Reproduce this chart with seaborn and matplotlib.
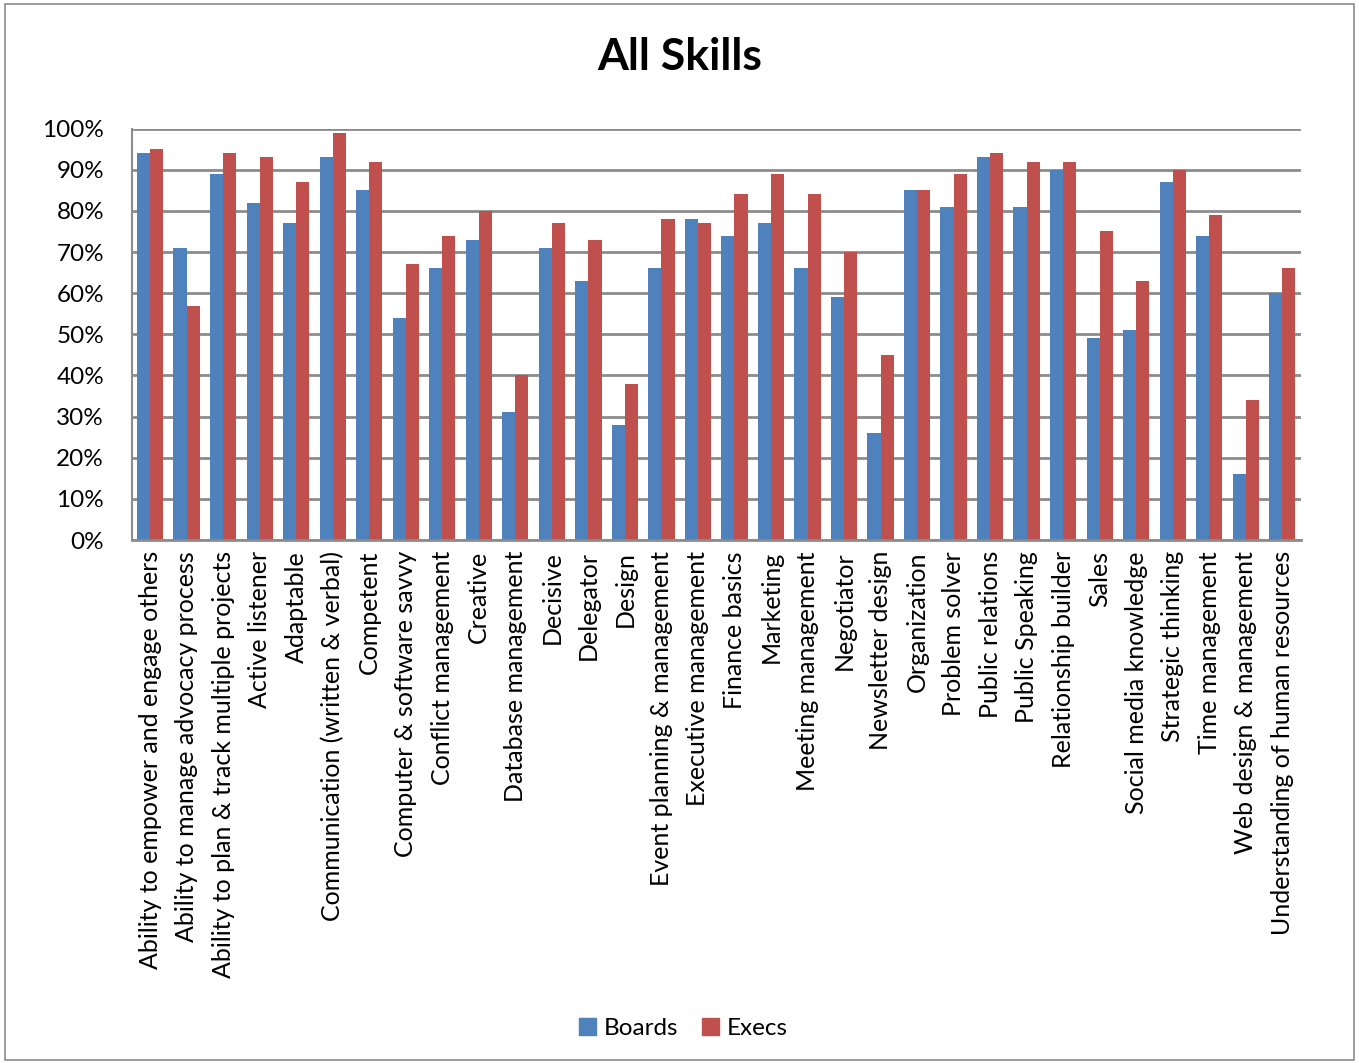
import matplotlib
matplotlib.use("Agg")
import matplotlib.pyplot as plt
import seaborn as sns
import pandas as pd
from matplotlib.patches import Rectangle
from matplotlib.ticker import PercentFormatter

categories = [
    "Ability to empower and engage others",
    "Ability to manage advocacy process",
    "Ability to plan & track multiple projects",
    "Active listener",
    "Adaptable",
    "Communication (written & verbal)",
    "Competent",
    "Computer & software savvy",
    "Conflict management",
    "Creative",
    "Database management",
    "Decisive",
    "Delegator",
    "Design",
    "Event planning & management",
    "Executive management",
    "Finance basics",
    "Marketing",
    "Meeting management",
    "Negotiator",
    "Newsletter design",
    "Organization",
    "Problem solver",
    "Public relations",
    "Public Speaking",
    "Relationship builder",
    "Sales",
    "Social media knowledge",
    "Strategic thinking",
    "Time management",
    "Web design & management",
    "Understanding of human resources",
]
boards = [94, 71, 89, 82, 77, 93, 85, 54, 66, 73, 31, 71, 63, 28, 66, 78,
          74, 77, 66, 59, 26, 85, 81, 93, 81, 90, 49, 51, 87, 74, 16, 60]
execs = [95, 57, 94, 93, 87, 99, 92, 67, 74, 80, 40, 77, 73, 38, 78, 77,
         84, 89, 84, 70, 45, 85, 89, 94, 92, 92, 75, 63, 90, 79, 34, 66]
series_names = ["Boards", "Execs"]
colors = ["#4F81BD", "#C0504D"]

df = pd.DataFrame({
    "Skill": categories * 2,
    "Series": [series_names[0]] * len(categories) + [series_names[1]] * len(categories),
    "Value": boards + execs,
})

sns.set_theme(style="white")
plt.rcParams["font.family"] = ["Lato", "DejaVu Sans"]
plt.rcParams["text.color"] = "black"

fig = plt.figure(figsize=(13.59, 10.63), dpi=100)
ax = fig.add_axes([0.097, 0.492, 0.86, 0.387])

sns.barplot(data=df, x="Skill", y="Value", hue="Series", palette=colors,
            width=0.72, ax=ax, saturation=1, legend=False, edgecolor="none")

ax.set_ylim(0, 100)
ax.set_xlim(-0.5, len(categories) - 0.5)
ax.set_yticks(range(0, 101, 10))
ax.yaxis.set_major_formatter(PercentFormatter(decimals=0))
ax.yaxis.grid(True, color="#8C8C8C", linewidth=2)
ax.set_axisbelow(True)
ax.set_xlabel("")
ax.set_ylabel("")
for s in ["top", "right"]:
    ax.spines[s].set_visible(False)
ax.spines["left"].set_color("#8C8C8C")
ax.spines["left"].set_linewidth(1.5)
ax.spines["bottom"].set_color("#8C8C8C")
ax.spines["bottom"].set_linewidth(2)
ax.tick_params(axis="y", labelsize=17.5, length=0, pad=20, colors="black")
ax.tick_params(axis="x", labelsize=18, length=0, pad=8, colors="black")
for lab in ax.get_xticklabels():
    lab.set_rotation(90)
    lab.set_ha("center")
    lab.set_va("top")

fig.suptitle("All Skills", x=0.5, y=0.965, fontsize=32, fontweight="bold",
             color="black")

handles = [Rectangle((0, 0), 1, 1, color=c) for c in colors]
fig.legend(handles, series_names, loc="center", bbox_to_anchor=(0.503, 0.032),
           ncol=2, frameon=False, fontsize=17.5, handlelength=0.7, handleheight=0.7,
           handletextpad=0.3, columnspacing=1.0)

border = Rectangle((0.004, 0.003), 0.992, 0.993, transform=fig.transFigure,
                   fill=False, edgecolor="#8C8C8C", linewidth=1.2)
fig.patches.append(border)

fig.savefig("out.png", dpi=100)
